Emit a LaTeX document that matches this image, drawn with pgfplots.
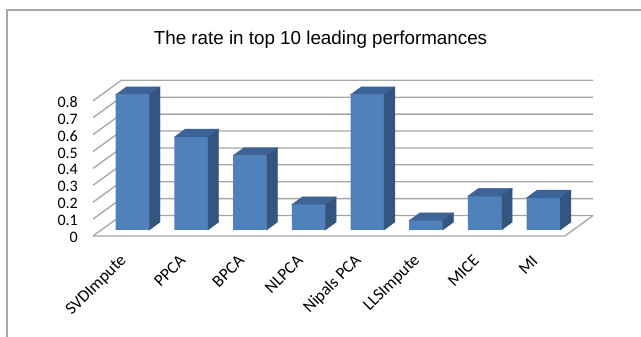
\documentclass[border=0pt]{standalone}
\usepackage{pgfplots}
\usepackage{pgfplotstable}
\pgfplotsset{compat=1.18}
\usepackage{fontspec}
\setmainfont{Carlito}
\newfontfamily\arial{Liberation Sans}
\definecolor{barfront}{HTML}{4F81BD}
\definecolor{bartop}{HTML}{3C6499}
\definecolor{barside}{HTML}{34557F}
\definecolor{gridc}{HTML}{A6A6A6}
\definecolor{framec}{HTML}{A8A8A8}
\pgfplotstableread{
x v
0 0.8
1 0.55
2 0.44
3 0.15
4 0.8
5 0.055
6 0.2
7 0.19
}\rates
\begin{document}
\begin{tikzpicture}
\useasboundingbox (0,0) rectangle (641pt,337pt);
\fill[white] (0,0) rectangle (641pt,337pt);
\draw[framec, line width=1.4pt] (6pt,327pt) -- (641pt,327pt);
\draw[framec, line width=1.4pt] (7pt,327pt) -- (7pt,0pt);
\node[font=\arial\fontsize{18.8}{22}\selectfont, anchor=base] at (320.5pt,292pt) {The rate in top 10 leading performances};
\begin{axis}[
  at={(93pt,101pt)}, anchor=south west,
  x=58.7pt, y=169pt,
  xmin=-0.673, xmax=7.9, ymin=-0.036, ymax=0.9,
  axis line style={draw=none},
  tick style={draw=none},
  major tick length=0pt,
  clip=false,
  ytick={0,0.1,0.2,0.3,0.4,0.5,0.6,0.7,0.8},
  yticklabels={0,0.1,0.2,0.3,0.4,0.5,0.6,0.7,0.8},
  yticklabel style={anchor=east, inner sep=0pt, xshift=-15pt, yshift=-7.5pt, font=\fontsize{16}{18}\selectfont},
  xtick={-0.145,0.855,1.855,2.855,3.855,4.855,5.855,6.855},
  xticklabels={SVDImpute,PPCA,BPCA,NLPCA,Nipals PCA,LLSImpute,MICE,MI},
  xticklabel style={rotate=45, anchor=east, inner sep=0pt, font=\fontsize{17}{19}\selectfont},
  xticklabel shift=22pt,
]
% back wall and left wall gridlines
\addplot[gridc, line width=1.3pt, no marks] coordinates {(-0.673,-0.036) (-0.191,0.085) (7.845,0.085)};
\addplot[gridc, line width=1.3pt, no marks] coordinates {(-0.673,0.064) (-0.191,0.185) (7.845,0.185)};
\addplot[gridc, line width=1.3pt, no marks] coordinates {(-0.673,0.164) (-0.191,0.285) (7.845,0.285)};
\addplot[gridc, line width=1.3pt, no marks] coordinates {(-0.673,0.264) (-0.191,0.385) (7.845,0.385)};
\addplot[gridc, line width=1.3pt, no marks] coordinates {(-0.673,0.364) (-0.191,0.485) (7.845,0.485)};
\addplot[gridc, line width=1.3pt, no marks] coordinates {(-0.673,0.464) (-0.191,0.585) (7.845,0.585)};
\addplot[gridc, line width=1.3pt, no marks] coordinates {(-0.673,0.564) (-0.191,0.685) (7.845,0.685)};
\addplot[gridc, line width=1.3pt, no marks] coordinates {(-0.673,0.664) (-0.191,0.785) (7.845,0.785)};
\addplot[gridc, line width=1.3pt, no marks] coordinates {(-0.673,0.764) (-0.191,0.885) (7.845,0.885)};
% floor
\addplot[gridc, line width=1.3pt, no marks] coordinates {(-0.673,-0.036) (7.367,-0.036) (7.845,0.085)};
% bar fronts
\addplot[ybar, bar width=33.6pt, fill=barfront, draw=none] table[x=x, y=v] {\rates};
% bar tops and sides
\addplot[only marks, mark=*, mark size=0pt, mark options={draw=none,fill=none},
  scatter, visualization depends on={\thisrow{v} \as \myv},
  scatter/@pre marker code/.code={%
    \fill[bartop] (-16.8pt,0pt) -- (16.8pt,0pt) -- (27.5pt,7.8pt) -- (-6.1pt,7.8pt) -- cycle;
    \pgfmathsetmacro{\hh}{\myv*169}%
    \fill[barside] (16.8pt,0pt) -- (27.5pt,7.8pt) -- (27.5pt,7.8pt-\hh pt) -- (16.8pt,-\hh pt) -- cycle;
  },
  scatter/@post marker code/.code={}
] table[x=x, y=v] {\rates};
\end{axis}
\end{tikzpicture}
\end{document}
